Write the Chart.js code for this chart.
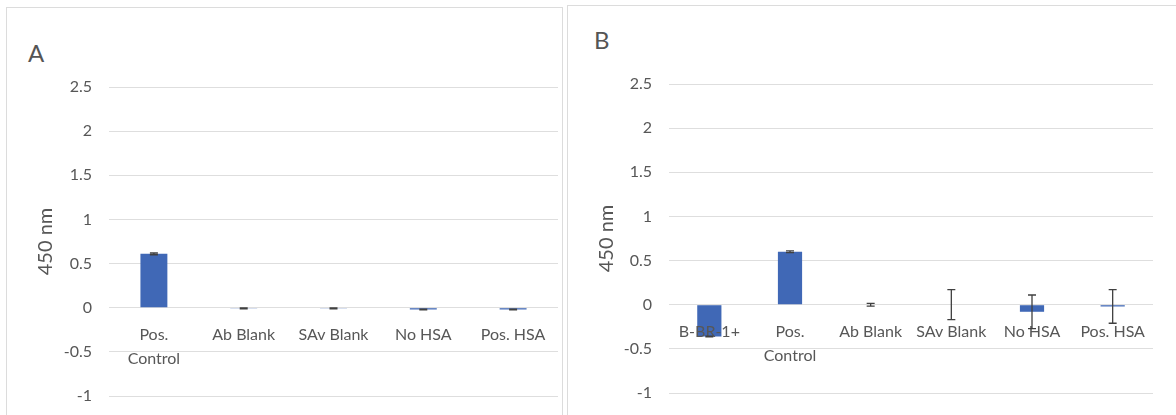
<!DOCTYPE html>
<html>
<head>
<meta charset="utf-8">
<script src="https://cdn.jsdelivr.net/npm/chart.js@4.4.1/dist/chart.umd.min.js"></script>
<style>
  body { margin: 0; background: #fff; width: 1176px; height: 415px; overflow: hidden; position: relative; font-family: Lato, sans-serif; }
  .frame { position: absolute; border: 1px solid #dcdcdc; box-sizing: border-box; }
  .box { position: absolute; }
  .letter { position: absolute; font-size: 24px; color: #555; line-height: 24px; }
</style>
</head>
<body>
<div class="frame" style="left:6px;top:7px;width:557px;height:430px"></div>
<div class="frame" style="left:567px;top:5px;width:620px;height:430px"></div>
<div class="letter" style="left:28px;top:41px">A</div>
<div class="letter" style="left:594px;top:28px">B</div>
<div class="box" style="left:6px;top:7px;width:556px;height:419px"><canvas id="chartA"></canvas></div>
<div class="box" style="left:567px;top:5px;width:609px;height:418px"><canvas id="chartB"></canvas></div>
<script>
// panel A
const labelsA = [['Pos.', 'Control'], 'Ab Blank', 'SAv Blank', 'No HSA', 'Pos. HSA'];
const valuesA = [0.61, -0.008, -0.008, -0.02, -0.02];
const errorsA = [0.01, 0.005, 0.005, 0.005, 0.005];

// panel B
const labelsB = ['B-BR-1+', ['Pos.', 'Control'], 'Ab Blank', 'SAv Blank', 'No HSA', 'Pos. HSA'];
const valuesB = [-0.36, 0.60, 0.0, 0.0, -0.08, -0.02];
const errorsB = [0.005, 0.01, 0.015, 0.17, 0.19, 0.19];

// y axis ticks (same for both)
const yTicks = [-1, -0.5, 0, 0.5, 1, 1.5, 2, 2.5];
const yTitle = '450 nm';

const grey = '#575757';

// simple error bar drawing, uses the chart's own y scale
// (drawn last so the bars run over the category labels like in the original)
const errorBars = {
    id: 'errorBars',
    afterDraw(chart, args, opts) {
        const ctx = chart.ctx;
        const y = chart.scales.y;
        const meta = chart.getDatasetMeta(0);
        const vals = chart.data.datasets[0].data;
        ctx.save();
        ctx.strokeStyle = '#404040';
        ctx.lineWidth = 1.3;
        meta.data.forEach((bar, i) => {
            const e = opts.err[i];
            if (!e) return;
            const top = y.getPixelForValue(vals[i] + e);
            const bot = y.getPixelForValue(vals[i] - e);
            ctx.beginPath();
            ctx.moveTo(bar.x, top); ctx.lineTo(bar.x, bot);
            ctx.moveTo(bar.x - 4, top); ctx.lineTo(bar.x + 4, top);
            ctx.moveTo(bar.x - 4, bot); ctx.lineTo(bar.x + 4, bot);
            ctx.stroke();
        });
        ctx.restore();
    }
};

function makeChart(id, labels, values, errors, pad, yWidth) {
    return new Chart(document.getElementById(id), {
        type: 'bar',
        data: {
            labels: labels,
            datasets: [{
                data: values,
                backgroundColor: '#4068b6',
                borderWidth: 0,
                barPercentage: 0.3,
                categoryPercentage: 1
            }]
        },
        plugins: [errorBars],
        options: {
            responsive: true,
            maintainAspectRatio: false,
            animation: false,
            layout: { padding: pad },
            plugins: {
                legend: { display: false },
                tooltip: { enabled: false },
                errorBars: { err: errors }
            },
            scales: {
                x: {
                    position: { y: 0 },
                    grid: { display: false },
                    border: { display: false },
                    ticks: {
                        z: 1, // labels on top of the bars, like the original
                        color: grey,
                        font: { family: 'Lato', size: 16, lineHeight: 1.5 },
                        padding: 7,
                        maxRotation: 0,
                        autoSkip: false
                    }
                },
                y: {
                    min: -1,
                    max: 2.5,
                    afterBuildTicks: (s) => { s.ticks = yTicks.map(v => ({ value: v })); },
                    afterFit: (s) => { s.width = yWidth; },
                    grid: { color: '#dedede', drawTicks: false },
                    border: { display: false },
                    ticks: {
                        color: grey,
                        font: { family: 'Lato', size: 16 },
                        padding: 17,
                        callback: (v) => String(v)
                    },
                    title: {
                        display: true,
                        text: yTitle,
                        color: grey,
                        font: { family: 'Lato', size: 20 },
                        padding: { top: 28, bottom: 0 }
                    }
                }
            }
        }
    });
}

makeChart('chartA', labelsA, valuesA, errorsA, { left: 0, right: 4, top: 80, bottom: 30 }, 103);
makeChart('chartB', labelsB, valuesB, errorsB, { left: 0, right: 23, top: 79, bottom: 30 }, 102);
</script>
</body>
</html>
